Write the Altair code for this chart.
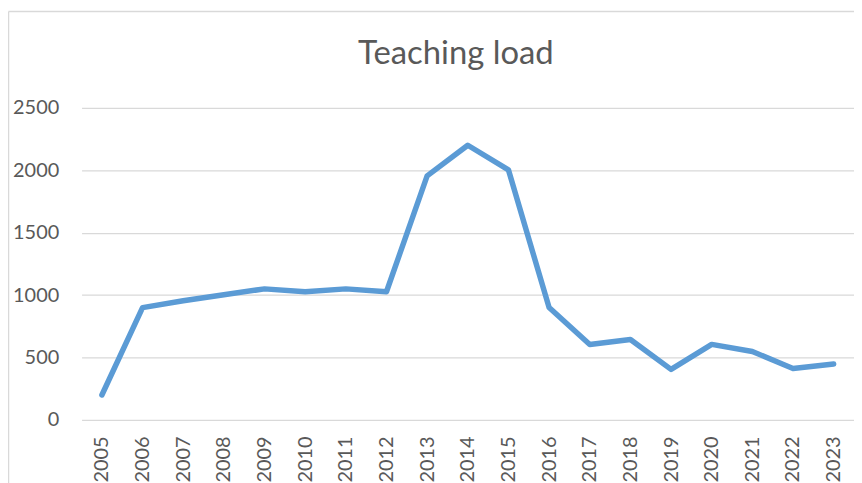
import altair as alt
import pandas as pd

years = ["2005", "2006", "2007", "2008", "2009", "2010", "2011", "2012", "2013", "2014",
         "2015", "2016", "2017", "2018", "2019", "2020", "2021", "2022", "2023"]
load = [200, 900, 955, 1003, 1050, 1027, 1050, 1027, 1955, 2200,
        2003, 900, 605, 645, 405, 605, 548, 412, 448]
y_ticks = [0, 500, 1000, 1500, 2000, 2500]

df = pd.DataFrame({"year": years, "load": load})

TEXT = "#595959"
GRID = "#D9D9D9"
FONT = "Lato"

line = alt.Chart(df).mark_line(
    color="#5B9BD5", strokeWidth=5.5, strokeCap="round", strokeJoin="round"
).encode(
    x=alt.X("year:O", sort=years,
            scale=alt.Scale(type="point", padding=0.5),
            axis=alt.Axis(title=None, labelAngle=-90, labelAlign="right",
                          labelBaseline="middle", labelPadding=16, ticks=False,
                          domain=False, labelFontSize=20, labelColor=TEXT,
                          labelFont=FONT, grid=False)),
    y=alt.Y("load:Q", scale=alt.Scale(domain=[0, 2500], nice=False),
            axis=alt.Axis(title=None, values=y_ticks, format="d", ticks=False, domain=False,
                          labelPadding=23, labelFontSize=20, labelColor=TEXT,
                          labelFont=FONT, gridColor=GRID, gridWidth=1.3)),
)

border_data = alt.Data(values=[{"k": 1}])
left_border = alt.Chart(border_data).mark_rule(color=GRID, strokeWidth=1.5).encode(
    x=alt.value(-73.5), y=alt.value(-97), y2=alt.value(470)
)
top_border = alt.Chart(border_data).mark_rule(color=GRID, strokeWidth=1.5).encode(
    x=alt.value(-73.5), x2=alt.value(800), y=alt.value(-97)
)

chart = alt.layer(left_border, top_border, line).properties(
    width=777, height=314,
    padding={"left": 74, "top": 99, "right": 0, "bottom": 62},
    autosize=alt.AutoSizeParams(type="none"),
    title=alt.TitleParams("Teaching load", fontSize=33, font=FONT, color=TEXT,
                          fontWeight="normal", anchor="middle", offset=-61, dx=-12),
).configure_view(stroke=None)

chart.save("out.html", embed_options={"renderer": "svg", "actions": False})
